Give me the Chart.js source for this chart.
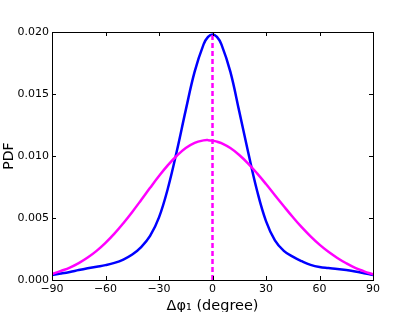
<!DOCTYPE html>
<html>
<head>
<meta charset="utf-8">
<script src="https://cdn.jsdelivr.net/npm/chart.js@4"></script>
<style>
  html, body { margin: 0; padding: 0; background: #fff; }
  #wrap { width: 415px; height: 312px; position: relative; }
</style>
</head>
<body>
<div id="wrap"><canvas id="c"></canvas></div>
<script>
// ---- data ----
const angles = [-90,-85,-80,-75,-70,-65,-60,-55,-50,-45,-40,-35,-30,-25,-20,-15,-10,-5,-2.5,0,2.5,5,10,15,20,25,30,35,40,45,50,55,60,65,70,75,80,85,90];
const bluePdf = [0.00040,0.00052,0.00065,0.00080,0.00094,0.00107,0.00120,0.00138,0.00165,0.00205,0.00265,0.00355,0.00505,0.00740,0.01040,0.01370,0.01680,0.01900,0.01960,0.01980,0.01960,0.01900,0.01680,0.01360,0.01030,0.00720,0.00475,0.00320,0.00235,0.00188,0.00152,0.00122,0.00104,0.00096,0.00089,0.00080,0.00069,0.00055,0.00040];
const magentaPdf = [0.00048,0.00073,0.00100,0.00136,0.00181,0.00235,0.00300,0.00374,0.00458,0.00549,0.00645,0.00743,0.00838,0.00926,0.01002,0.01064,0.01106,0.01126,0.01128,0.01124,0.01116,0.01103,0.01064,0.01008,0.00939,0.00860,0.00774,0.00684,0.00595,0.00508,0.00426,0.00352,0.00285,0.00227,0.00178,0.00135,0.00098,0.00070,0.00045];
const markerX = [0, 0];
const markerY = [0, 0.0198];
const xTicks = [-90, -60, -30, 0, 30, 60, 90];
const yTicks = [0, 0.005, 0.010, 0.015, 0.020];

const toPts = (xs, ys) => xs.map((x, i) => ({ x: x, y: ys[i] }));
const FONT = "'DejaVu Sans', sans-serif";

const frameTicks = {
  id: 'frameTicks',
  afterDatasetsDraw(chart) {
    const { ctx, chartArea: a, scales } = chart;
    ctx.save();
    ctx.strokeStyle = '#000';
    ctx.lineWidth = 1;
    ctx.beginPath();
    const L = 4;
    scales.x.ticks.forEach(t => {
      const px = Math.round(scales.x.getPixelForValue(t.value)) + 0.5;
      ctx.moveTo(px, a.bottom); ctx.lineTo(px, a.bottom - L);
      ctx.moveTo(px, a.top); ctx.lineTo(px, a.top + L);
    });
    scales.y.ticks.forEach(t => {
      const py = Math.round(scales.y.getPixelForValue(t.value)) + 0.5;
      ctx.moveTo(a.left, py); ctx.lineTo(a.left + L, py);
      ctx.moveTo(a.right, py); ctx.lineTo(a.right - L, py);
    });
    ctx.stroke();
    ctx.strokeRect(Math.round(a.left) + 0.5, Math.round(a.top) + 0.5,
                   Math.round(a.right - a.left), Math.round(a.bottom - a.top));
    ctx.restore();
  }
};

new Chart(document.getElementById('c'), {
  type: 'line',
  data: {
    datasets: [
      { data: toPts(markerX, markerY), borderColor: '#ff00ff', borderWidth: 2.5, borderDash: [5, 3], pointRadius: 0, tension: 0 },
      { data: toPts(angles, magentaPdf), borderColor: '#ff00ff', borderWidth: 2.5, pointRadius: 0, tension: 0.4 },
      { data: toPts(angles, bluePdf), borderColor: '#0000ff', borderWidth: 2.5, pointRadius: 0, tension: 0.4 }
    ]
  },
  options: {
    responsive: true,
    maintainAspectRatio: false,
    animation: false,
    devicePixelRatio: 1,
    layout: { padding: { left: 0, top: 32, right: 42, bottom: 0 } },
    plugins: { legend: { display: false }, tooltip: { enabled: false } },
    scales: {
      x: {
        type: 'linear', min: -90, max: 90,
        afterBuildTicks: s => { s.ticks = xTicks.map(v => ({ value: v })); },
        afterFit: s => { s.height = 32; },
        grid: { display: false, drawTicks: false },
        border: { display: false },
        ticks: {
          color: '#000', font: { family: FONT, size: 11 }, padding: 3, maxRotation: 0,
          callback: v => String(v).replace('-', '\u2212')
        },
        title: { display: true, text: 'Δφ\u2081 (degree)', color: '#000', font: { family: FONT, size: 14.5 }, padding: { top: 0, bottom: -3 } }
      },
      y: {
        type: 'linear', min: 0, max: 0.02,
        afterBuildTicks: s => { s.ticks = yTicks.map(v => ({ value: v })); },
        afterFit: s => { s.width = 52; },
        grid: { display: false, drawTicks: false },
        border: { display: false },
        ticks: {
          color: '#000', font: { family: FONT, size: 11 }, padding: 3,
          callback: v => v.toFixed(3)
        },
        title: { display: true, text: 'PDF', color: '#000', font: { family: FONT, size: 14 }, padding: { top: 1, bottom: 0 } }
      }
    }
  },
  plugins: [frameTicks]
});
</script>
</body>
</html>
